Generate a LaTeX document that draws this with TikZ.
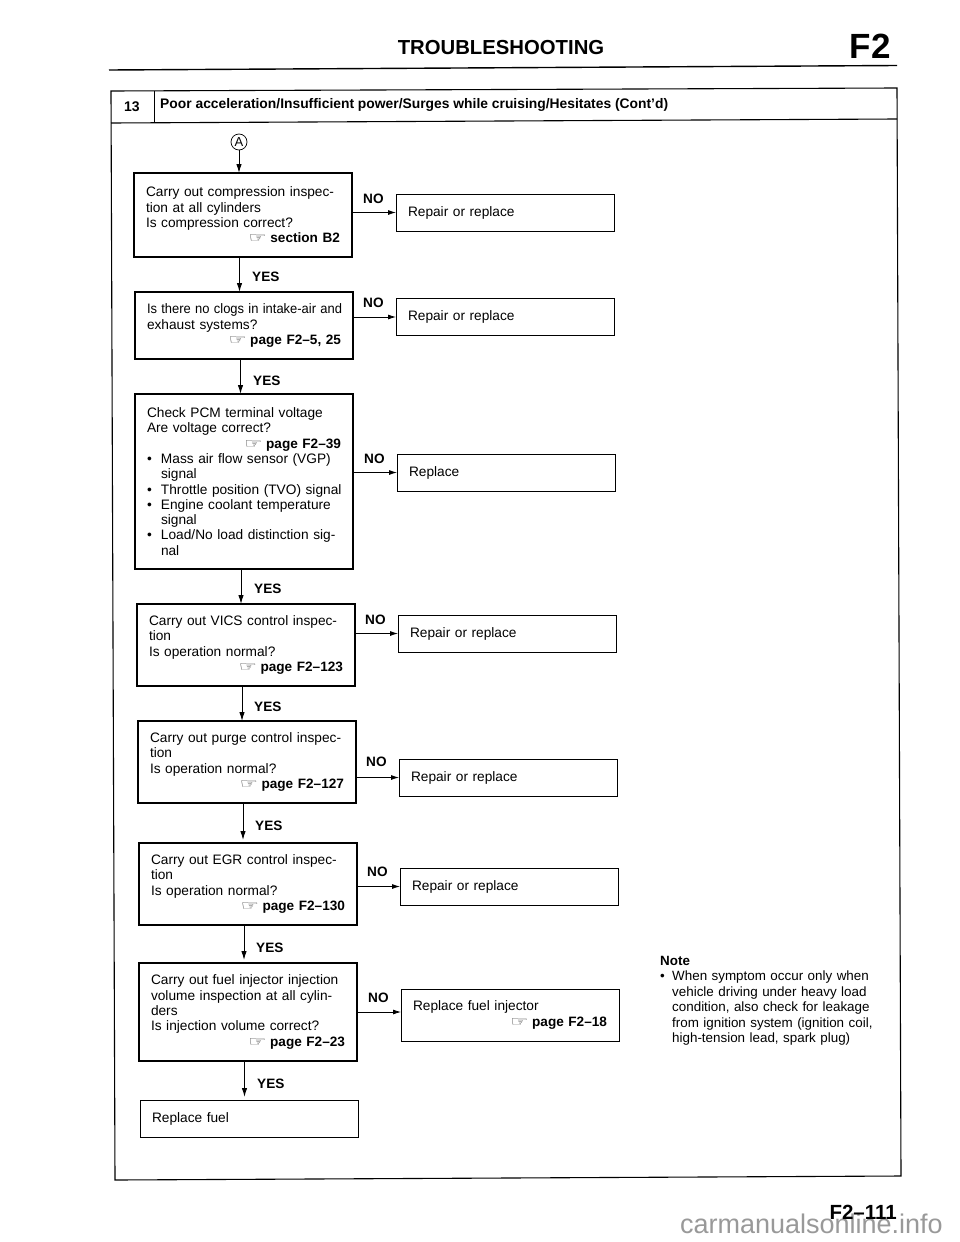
\documentclass[tikz,border=0pt]{standalone}
\usepackage{graphicx}
\usepackage{fontspec}
\setmainfont{Liberation Sans}
\newfontfamily\dvfont{DejaVu Sans}
\usetikzlibrary{arrows.meta}
\newcommand{\jl}[1]{\makebox[\linewidth][s]{#1}\\}
\newcommand{\hand}{{\dvfont\fontsize{14}{15.3}\selectfont\textcolor{black!75}{\scalebox{1.45}[1]{☞}}}}
\newcommand{\refl}[2]{\mbox{}\hfill\hand\hspace{3.5pt}\textbf{\fontsize{13.6}{15.3}\selectfont #2}\hspace*{#1pt}}
\newcommand{\bul}{\makebox[14pt][l]{•}}
\newcommand{\ind}{\hspace*{14pt}}
\tikzset{
  x=1pt,y=-1pt,
  basefont/.style={font=\fontsize{13.7}{15.3}\selectfont},
  qbox/.style={draw,line width=1.5pt,anchor=north west,basefont,text width=194pt,inner xsep=12pt,inner ysep=0pt,align=left,outer sep=0pt},
  rbox/.style={draw,line width=0.9pt,anchor=north west,basefont,text width=194pt,inner xsep=12pt,inner ysep=0pt,minimum height=37pt,align=left,outer sep=0pt},
  varr/.style={line width=1pt,-{Latex[length=9pt,width=5.5pt]}},
  harr/.style={line width=0.8pt,-{Latex[length=8pt,width=5pt]}},
  lab/.style={anchor=west,inner sep=0pt,font=\bfseries\fontsize{13.6}{15}\selectfont},
  frameline/.style={line width=1.1pt}
}
\begin{document}
\begin{tikzpicture}
\useasboundingbox (0,0) rectangle (960,1242);
\fill[white] (0,0) rectangle (960,1242);
% header
\node[inner sep=0pt,font=\bfseries\fontsize{20.3}{22}\selectfont] (title) at (501,48) {TROUBLESHOOTING};
\node[inner sep=0pt,font=\bfseries\fontsize{35}{38}\selectfont,anchor=east] (sec) at (891,46) {F2};
\draw[line width=1.4pt] (109,70) -- (897,65.5);
% frame (the scan is slightly skewed)
\draw[frameline] (111,91) -- (897,88) -- (901,1176) -- (115,1180) -- cycle;
\draw[frameline] (111,123) -- (897,119);
\draw[line width=1pt] (154,90.8) -- (154,122.8);
\node[inner sep=0pt,font=\bfseries\fontsize{14}{15}\selectfont] (num) at (132,107) {13};
\node[inner sep=0pt,anchor=west,font=\bfseries\fontsize{13.85}{15}\selectfont] (head) at (160,105) {Poor acceleration/Insufficient power/Surges while cruising/Hesitates (Cont'd)};
% start
\node[draw,circle,line width=0.7pt,inner sep=0pt,minimum size=16pt,font=\fontsize{13}{13}\selectfont] (a) at (239,142) {A};
% question boxes
\node[qbox,minimum height=84pt] (b1) at (134,173) {\jl{Carry out compression inspec-}tion at all cylinders\\Is compression correct?\\\refl{16}{section B2}};
\node[qbox,minimum height=67pt] (b2) at (135,292) {\jl{\scalebox{0.945}[1]{Is there no clogs in intake-air and}}exhaust systems?\\\refl{9}{page F2--5, 25}};
\node[qbox,minimum height=175pt] (b3) at (135,394) {Check PCM terminal voltage\\Are voltage correct?\\\refl{9}{page F2--39}\\\bul Mass air flow sensor (VGP)\\\ind signal\\\mbox{\bul Throttle position (TVO) signal}\\\bul Engine coolant temperature\\\ind signal\\\bul Load/No load distinction sig-\\\ind nal};
\node[qbox,minimum height=82pt] (b4) at (137,604) {\jl{Carry out VICS control inspec-}tion\\Is operation normal?\\\refl{3}{page F2--123}};
\node[qbox,minimum height=82pt] (b5) at (138,721) {\jl{Carry out purge control inspec-}tion\\Is operation normal?\\\refl{3}{page F2--127}};
\node[qbox,minimum height=82pt] (b6) at (139,843) {\jl{Carry out EGR control inspec-}tion\\Is operation normal?\\\refl{3}{page F2--130}};
\node[qbox,minimum height=98pt] (b7) at (139,963) {\jl{Carry out fuel injector injection}\jl{volume inspection at all cylin-}ders\\Is injection volume correct?\\\refl{11}{page F2--23}};
\node[rbox] (b8) at (140,1100) {Replace fuel};
% result boxes
\node[rbox] (r1) at (396,194) {Repair or replace};
\node[rbox] (r2) at (396,298.5) {Repair or replace};
\node[rbox] (r3) at (397,454) {Replace};
\node[rbox] (r4) at (398,615) {Repair or replace};
\node[rbox] (r5) at (399,759) {Repair or replace};
\node[rbox] (r6) at (400,868) {Repair or replace};
\node[rbox,minimum height=52pt] (r7) at (401,989) {Replace fuel injector\\\refl{10}{page F2--18}};
% vertical connectors
\draw[varr] (a) -- (239,0 |- b1.north);
\foreach \u/\v/\g/\xx in {b1/b2/0/239.5,b2/b3/0/240.5,b3/b4/0/241,b4/b5/0/242,b5/b6/3/243,b6/b7/3/244,b7/b8/3/244.5}{
  \draw[varr,shorten >=\g pt] (\xx,0 |- \u.south) -- (\xx,0 |- \v.north);
}
% horizontal connectors
\foreach \i in {1,...,6}{
  \draw[harr] (b\i.east |- r\i.west) -- (r\i.west);
}
\draw[harr] (b7.east |- 0,1012) -- (r7.west |- 0,1012);
% labels
\node[lab] (y1) at (252,277) {YES};
\node[lab] (y2) at (253,381) {YES};
\node[lab] (y3) at (254,589) {YES};
\node[lab] (y4) at (254,707) {YES};
\node[lab] (y5) at (255,826) {YES};
\node[lab] (y6) at (256,948) {YES};
\node[lab] (y7) at (257,1084) {YES};
\node[lab] (n1) at (363,199) {NO};
\node[lab] (n2) at (363,303) {NO};
\node[lab] (n3) at (364,459) {NO};
\node[lab] (n4) at (365,620) {NO};
\node[lab] (n5) at (366,762) {NO};
\node[lab] (n6) at (367,872) {NO};
\node[lab] (n7) at (368,998) {NO};
% note
\node[anchor=north west,inner sep=0pt,text width=225pt,align=left,font=\fontsize{13.4}{15.5}\selectfont] (note) at (660,956) {\textbf{Note}\\\makebox[12pt][l]{•}When symptom occur only when\\\hspace*{12pt}vehicle driving under heavy load\\\hspace*{12pt}condition, also check for leakage\\\hspace*{12pt}from ignition system (ignition coil,\\\hspace*{12pt}high-tension lead, spark plug)};
% footer
\node[anchor=base east,inner sep=0pt,text=black!40,font=\fontsize{27}{29}\selectfont] (mark) at (943,1233) {carmanualsonline.info};
\node[anchor=east,inner sep=0pt,font=\bfseries\fontsize{20.5}{23}\selectfont] (foot) at (897,1212) {F2--111};
\end{tikzpicture}
\end{document}
